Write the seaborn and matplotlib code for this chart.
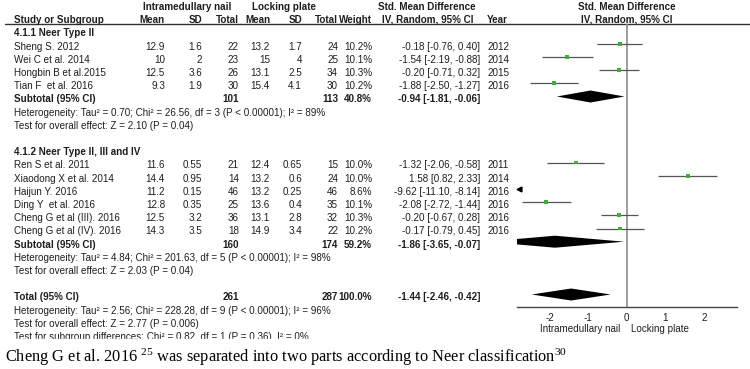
# forest plot: intramedullary nail vs locking plate (std. mean difference)
import matplotlib
matplotlib.use("Agg")
import matplotlib.pyplot as plt
import seaborn as sns
import pandas as pd
from matplotlib.patches import Rectangle

# ---- data ----
studies = ["Sheng S. 2012", "Wei C et al. 2014", "Hongbin B et al.2015", "Tian F  et al. 2016",
           "Ren S et al. 2011", "Xiaodong X et al. 2014", "Haijun Y. 2016", "Ding Y  et al. 2016",
           "Cheng G et al (III). 2016", "Cheng G et al (IV). 2016"]
group = [1, 1, 1, 1, 2, 2, 2, 2, 2, 2]
nail_mean = [12.9, 10, 12.5, 9.3, 11.6, 14.4, 11.2, 12.8, 12.5, 14.3]
nail_sd = [1.6, 2, 3.6, 1.9, 0.55, 0.95, 0.15, 0.35, 3.2, 3.5]
nail_n = [22, 23, 26, 30, 21, 14, 46, 25, 36, 18]
plate_mean = [13.2, 15, 13.1, 15.4, 12.4, 13.2, 13.2, 13.6, 13.1, 14.9]
plate_sd = [1.7, 4, 2.5, 4.1, 0.65, 0.6, 0.25, 0.4, 2.8, 3.4]
plate_n = [24, 25, 34, 30, 15, 24, 46, 35, 32, 22]
weight = [10.2, 10.1, 10.3, 10.2, 10.0, 10.0, 8.6, 10.1, 10.3, 10.2]
smd = [-0.18, -1.54, -0.20, -1.88, -1.32, 1.58, -9.62, -2.08, -0.20, -0.17]
ci_low = [-0.76, -2.19, -0.71, -2.50, -2.06, 0.82, -11.10, -2.72, -0.67, -0.79]
ci_high = [0.40, -0.88, 0.32, -1.27, -0.58, 2.33, -8.14, -1.44, 0.28, 0.45]
year = [2012, 2014, 2015, 2016, 2011, 2014, 2016, 2016, 2016, 2016]

group_titles = ["4.1.1 Neer Type II", "4.1.2 Neer Type II, III and IV"]
pooled_labels = ["Subtotal (95% CI)", "Subtotal (95% CI)", "Total (95% CI)"]
pooled_nail_n = [101, 160, 261]
pooled_plate_n = [113, 174, 287]
pooled_weight = [40.8, 59.2, 100.0]
pooled_smd = [-0.94, -1.86, -1.44]
pooled_low = [-1.81, -3.65, -2.46]
pooled_high = [-0.06, -0.07, -0.42]
pooled_notes = [
    ["Heterogeneity: Tau² = 0.70; Chi² = 26.56, df = 3 (P < 0.00001); I² = 89%",
     "Test for overall effect: Z = 2.10 (P = 0.04)"],
    ["Heterogeneity: Tau² = 4.84; Chi² = 201.63, df = 5 (P < 0.00001); I² = 98%",
     "Test for overall effect: Z = 2.03 (P = 0.04)"],
    ["Heterogeneity: Tau² = 2.56; Chi² = 228.28, df = 9 (P < 0.00001); I² = 96%",
     "Test for overall effect: Z = 2.77 (P = 0.006)",
     "Test for subgroup differences: Chi² = 0.82, df = 1 (P = 0.36), I² = 0%"],
]
x_ticks = [-2, -1, 0, 1, 2]
caption = "Cheng G et al. 2016 $^{25}$ was separated into two parts according to Neer classification$^{30}$"

# ---- layout (pixels of a 750x369 canvas) ----
W, H = 750, 369
ROW0, ROWH = 33.5, 13.2       # text centre of first body row, row pitch
MARK_OFF = -3.0               # marks sit a little above the text centre
AX_L, AX_R, AX_TOP, AX_BOT = 516.7, 737.3, 24.0, 306.7
XLIM = (-2.85, 2.86)
TXT = "#1e1e1e"
FS = 7.1

sns.set_style("white")
plt.rcParams["font.family"] = ["Liberation Sans", "DejaVu Sans"]
plt.rcParams["mathtext.fontset"] = "custom"
plt.rcParams["mathtext.rm"] = "Liberation Serif"
plt.rcParams["mathtext.it"] = "Liberation Serif"

fig = plt.figure(figsize=(W / 100, H / 100), dpi=100)
tab = fig.add_axes([0, 0, 1, 1])
tab.set_xlim(0, W)
tab.set_ylim(H, 0)
tab.axis("off")

ax = fig.add_axes([AX_L / W, (H - AX_BOT) / H, (AX_R - AX_L) / W, (AX_BOT - AX_TOP) / H])
ax.set_xlim(*XLIM)
ax.set_ylim(AX_BOT, AX_TOP)
ax.patch.set_alpha(0)


def row_y(k):
    return ROW0 + ROWH * k


def put(x, y, s, ha="left", bold=False, **kw):
    tab.text(x, y, s, ha=ha, va="center", fontsize=FS, color=TXT,
             fontweight="bold" if bold else "normal", **kw)


def fmt_ci(m, lo, hi):
    return f"{m:.2f} [{lo:.2f}, {hi:.2f}]"


# ---- header ----
put(187, 6.5, "Intramedullary nail", ha="center", bold=True)
put(284, 6.5, "Locking plate", ha="center", bold=True)
put(427, 6.5, "Std. Mean Difference", ha="center", bold=True)
put(627, 6.5, "Std. Mean Difference", ha="center", bold=True)
put(14, 20, "Study or Subgroup", bold=True)
for xr, s in [(165, "Mean"), (202, "SD"), (239, "Total"), (270, "Mean"),
              (302, "SD"), (338, "Total"), (372, "Weight")]:
    put(xr, 20, s, ha="right", bold=True)
put(428, 20, "IV, Random, 95% CI", ha="center", bold=True)
put(487, 20, "Year", bold=True)
put(627, 20, "IV, Random, 95% CI", ha="center", bold=True)
tab.plot([5, W], [24, 24], color="#333333", lw=1.0)

# ---- body rows ----
study_rows = []
pooled_rows = []
k = 0
for g in (1, 2):
    put(14, row_y(k), group_titles[g - 1], bold=True)
    k += 1
    for i in [j for j, gg in enumerate(group) if gg == g]:
        y = row_y(k)
        put(14, y, studies[i])
        put(165, y, f"{nail_mean[i]:g}", ha="right")
        put(202, y, f"{nail_sd[i]:g}", ha="right")
        put(239, y, f"{nail_n[i]}", ha="right")
        put(270, y, f"{plate_mean[i]:g}", ha="right")
        put(302, y, f"{plate_sd[i]:g}", ha="right")
        put(338, y, f"{plate_n[i]}", ha="right")
        put(372, y, f"{weight[i]:.1f}%", ha="right")
        put(480, y, fmt_ci(smd[i], ci_low[i], ci_high[i]), ha="right")
        put(487, y, f"{year[i]}")
        study_rows.append(y + MARK_OFF)
        k += 1
    pooled_rows.append(row_y(k) + MARK_OFF)
    p = g - 1
    y = row_y(k)
    put(14, y, pooled_labels[p], bold=True)
    put(239, y, f"{pooled_nail_n[p]}", ha="right", bold=True)
    put(338, y, f"{pooled_plate_n[p]}", ha="right", bold=True)
    put(372, y, f"{pooled_weight[p]:.1f}%", ha="right", bold=True)
    put(480, y, fmt_ci(pooled_smd[p], pooled_low[p], pooled_high[p]), ha="right", bold=True)
    k += 1
    for note in pooled_notes[p]:
        put(14, row_y(k), note)
        k += 1
    k += 1

# overall
y = row_y(k)
pooled_rows.append(y + MARK_OFF)
put(14, y, pooled_labels[2], bold=True)
put(239, y, f"{pooled_nail_n[2]}", ha="right", bold=True)
put(338, y, f"{pooled_plate_n[2]}", ha="right", bold=True)
put(372, y, f"{pooled_weight[2]:.1f}%", ha="right", bold=True)
put(480, y, fmt_ci(pooled_smd[2], pooled_low[2], pooled_high[2]), ha="right", bold=True)
k += 1
for note in pooled_notes[2]:
    put(14, row_y(k), note)
    k += 1

# ---- forest panel ----
df = pd.DataFrame({"smd": smd, "lo": ci_low, "hi": ci_high, "y": study_rows})
inside = df[(df.hi > XLIM[0]) & (df.lo < XLIM[1])]
off_left = df[df.hi <= XLIM[0]]

ax.axvline(0, color="#8c8c8c", lw=1.2, zorder=1)
ax.hlines(inside.y, inside.lo, inside.hi, color="#555555", lw=0.9, zorder=2)
sns.scatterplot(data=inside, x="smd", y="y", marker="s", s=8, color="#3fae3a",
                edgecolor="none", ax=ax, zorder=3)
for _, r in off_left.iterrows():
    ax.plot(XLIM[0] + 0.06, r.y, marker="<", ms=3.5, color="black", clip_on=False)

for m, lo, hi, yy in zip(pooled_smd, pooled_low, pooled_high, pooled_rows):
    ax.fill([lo, m, hi, m], [yy, yy - 6, yy, yy + 6], color="black", lw=0, zorder=3)

ax.set_xticks(x_ticks)
ax.set_xticklabels([f"{t:g}" for t in x_ticks], fontsize=FS, color=TXT)
ax.set_yticks([])
ax.set_xlabel("")
ax.set_ylabel("")
for side in ("top", "left", "right"):
    ax.spines[side].set_visible(False)
ax.spines["bottom"].set_color("#444444")
ax.spines["bottom"].set_linewidth(1.0)
ax.tick_params(axis="x", direction="inout", length=5, width=0.9, color="#444444", pad=2)

put(620, 329, "Intramedullary nail", ha="right")
put(631, 329, "Locking plate")

# caption over the bottom of the table
tab.add_patch(Rectangle((0, 338.5), W, H - 338.5, color="white", zorder=4))
tab.text(5, 357, caption, ha="left", va="center", fontsize=11.8, color="black",
         family="Liberation Serif", zorder=5)

fig.savefig("out.png", dpi=100)
